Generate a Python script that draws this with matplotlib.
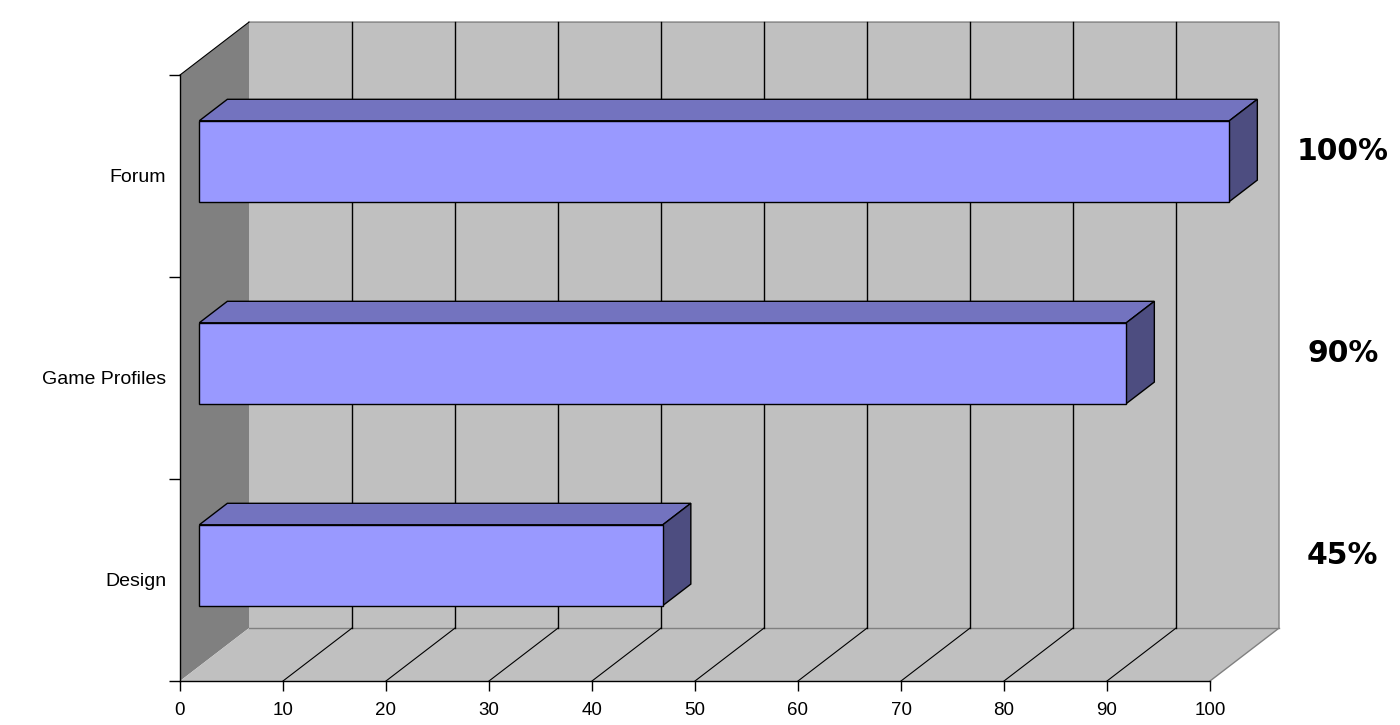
import matplotlib.pyplot as plt
from matplotlib.patches import Polygon

categories = ["Design", "Game Profiles", "Forum"]
values = [45, 90, 100]
value_labels = ["45%", "90%", "100%"]
x_ticks = list(range(0, 101, 10))

# 3D look: offset of the back wall in data units
DX, DY = 6.7, 0.262
F1, F2 = 0.28, 0.686     # bar depth, as fraction of the wall depth
BAR_H = 0.40

WALL = "#c0c0c0"
SIDE_WALL = "#808080"
EDGE = "#808080"
FRONT = "#9999ff"
TOP = "#7373bf"
SIDE = "#4d4d80"

fig = plt.figure(figsize=(14, 7.25), dpi=100)
ax = fig.add_axes([180 / 1400, 1 - 681 / 725, 1030 / 1400, 606 / 725])
ax.set_xlim(0, 100)
ax.set_ylim(0, len(categories))
ax.patch.set_visible(False)

n = len(categories)


def poly(points, face, edge="none", lw=0.0, z=1):
    ax.add_patch(Polygon(points, closed=True, facecolor=face, edgecolor=edge,
                         linewidth=lw, clip_on=False, zorder=z))


# walls and floor
poly([(DX, DY), (100 + DX, DY), (100 + DX, n + DY), (DX, n + DY)], WALL, z=1)
poly([(0, 0), (DX, DY), (DX, n + DY), (0, n)], SIDE_WALL, z=1)
poly([(0, 0), (100, 0), (100 + DX, DY), (DX, DY)], WALL, z=1)

# wall edges
ax.plot([DX, 100 + DX, 100 + DX, 100], [n + DY, n + DY, DY, 0], color=EDGE,
        lw=1, clip_on=False, zorder=2)
ax.plot([DX, 100 + DX], [DY, DY], color=EDGE, lw=1, clip_on=False, zorder=2)
ax.plot([0, DX], [n, n + DY], color="black", lw=0.8, clip_on=False, zorder=2)

# gridlines on back wall and floor
for x in x_ticks[1:-1]:
    ax.plot([x + DX, x + DX], [DY, n + DY], color="black", lw=1, clip_on=False, zorder=2)
    ax.plot([x, x + DX], [0, DY], color="black", lw=0.8, clip_on=False, zorder=2)

# bars
depth_x = (F2 - F1) * DX
depth_y = (F2 - F1) * DY
for i, v in enumerate(values):
    x0 = F1 * DX
    y0 = i + 0.5 - BAR_H / 2 + F1 * DY
    y1 = y0 + BAR_H
    poly([(x0, y1), (x0 + v, y1), (x0 + v + depth_x, y1 + depth_y), (x0 + depth_x, y1 + depth_y)],
         TOP, "black", 1, z=3)
    poly([(x0 + v, y0), (x0 + v + depth_x, y0 + depth_y), (x0 + v + depth_x, y1 + depth_y), (x0 + v, y1)],
         SIDE, "black", 1, z=3)
    poly([(x0, y0), (x0 + v, y0), (x0 + v, y1), (x0, y1)], FRONT, "black", 1, z=4)

# value labels at the right
for i, lab in enumerate(value_labels):
    ax.text(112.9, i + 0.62, lab, ha="center", va="center", fontsize=21.5,
            fontweight="bold", family="DejaVu Sans", color="black", clip_on=False)

# axes
for s in ["top", "right"]:
    ax.spines[s].set_visible(False)
for s in ["left", "bottom"]:
    ax.spines[s].set_color("black")
    ax.spines[s].set_linewidth(1)
    ax.spines[s].set_zorder(5)

ax.set_xticks(x_ticks)
ax.set_xticklabels([str(t) for t in x_ticks], fontsize=13.5, family="Liberation Sans")
ax.tick_params(axis="x", direction="out", length=7, width=1, pad=8, color="black")

ax.set_yticks(range(n + 1))
ax.set_yticklabels([])
ax.tick_params(axis="y", which="major", direction="out", length=8, width=1, color="black")
ax.set_yticks([i + 0.5 for i in range(n)], minor=True)
ax.set_yticklabels(categories, minor=True, fontsize=14, family="Liberation Sans")
ax.tick_params(axis="y", which="minor", length=0, pad=10)

fig.savefig("out.png", dpi=100, facecolor="white")
